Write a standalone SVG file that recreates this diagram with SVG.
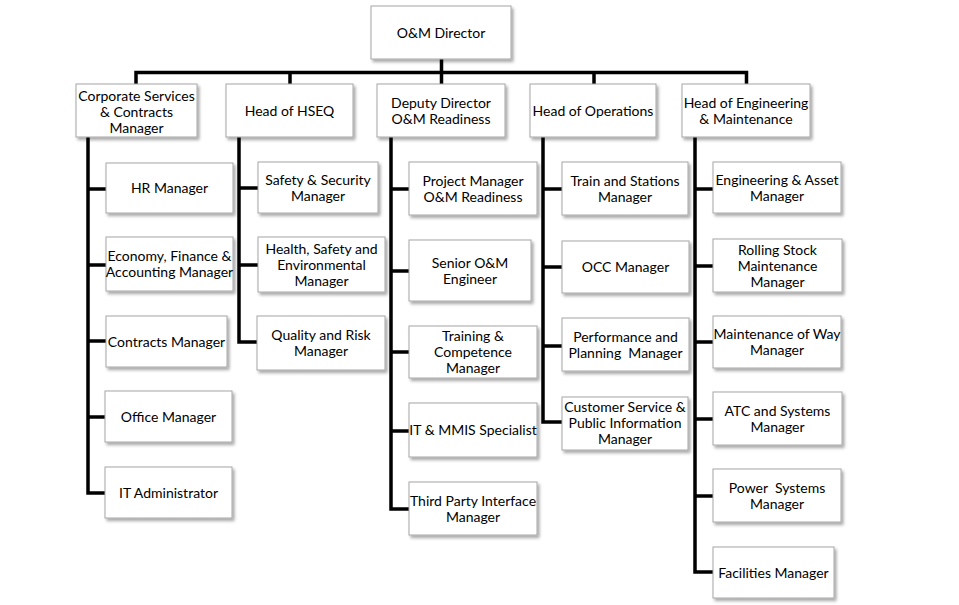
<svg xmlns="http://www.w3.org/2000/svg" width="959" height="605" viewBox="0 0 959 605">
<defs>
<filter id="sh" x="-10%" y="-10%" width="130%" height="140%">
<feDropShadow dx="2" dy="2.5" stdDeviation="1.5" flood-color="#000" flood-opacity="0.35"/>
</filter>
<style>
.b{fill:#fff;stroke:#a6a6a6;stroke-width:1;filter:url(#sh)}
.t{font-family:Lato,"Liberation Sans",sans-serif;font-size:14px;fill:#000;text-anchor:middle;white-space:pre}
.c{fill:none;stroke:#000;stroke-width:3.5;stroke-linejoin:miter;stroke-linecap:butt}
</style>
</defs>
<rect width="959" height="605" fill="#fff"/>
<g id="connectors">
<path class="c" d="M441.5 59V72.5M136 86V72.5H746.5V86M290 72.5V86M594 72.5V86M441.5 72.5V86"/>
<path class="c" d="M88 137V493H105M88 189H106M88 265H106M88 341H106M88 417H105"/>
<path class="c" d="M239 137V342H257M239 188H258M239 265H258"/>
<path class="c" d="M391 137V509H409M391 189H409M391 271H409M391 352H409M391 431H409"/>
<path class="c" d="M543 137V422H562M543 189H562M543 267H562M543 346H562"/>
<path class="c" d="M695 137V572H713M695 189H713M695 266H713M695 342H713M695 419H713M695 496H713"/>
</g>
<g id="director"><rect class="b" x="371" y="6" width="140" height="53"/><text class="t" x="441" y="37.5">O&amp;M Director</text></g>
<g id="corporate"><rect class="b" x="76" y="84" width="121" height="53"/><text class="t" x="136.5" y="100.5">Corporate Services</text><text class="t" x="136.5" y="116.5">&amp; Contracts</text><text class="t" x="136.5" y="132.5">Manager</text></g>
<g id="hseq"><rect class="b" x="226" y="84" width="127" height="53"/><text class="t" x="289.5" y="115.5">Head of HSEQ</text></g>
<g id="deputy"><rect class="b" x="377" y="84" width="128" height="53"/><text class="t" x="441" y="107.5">Deputy Director</text><text class="t" x="441" y="123.5">O&amp;M Readiness</text></g>
<g id="operations"><rect class="b" x="530" y="84" width="126" height="53"/><text class="t" x="593" y="115.5">Head of Operations</text></g>
<g id="engineering"><rect class="b" x="682" y="84" width="128" height="53"/><text class="t" x="746" y="107.5">Head of Engineering</text><text class="t" x="746" y="123.5">&amp; Maintenance</text></g>

<g id="hr"><rect class="b" x="106" y="163" width="127" height="50"/><text class="t" x="169.5" y="193">HR Manager</text></g>
<g id="economy"><rect class="b" x="106" y="237" width="127" height="54"/><text class="t" x="169.5" y="261">Economy, Finance &amp;</text><text class="t" x="169.5" y="277">Accounting Manager</text></g>
<g id="contracts"><rect class="b" x="106" y="316" width="121" height="51"/><text class="t" x="166.5" y="346.5">Contracts Manager</text></g>
<g id="office"><rect class="b" x="105" y="391" width="127" height="51"/><text class="t" x="168.5" y="421.5">Office Manager</text></g>
<g id="itadmin"><rect class="b" x="105" y="467" width="127" height="51"/><text class="t" x="168.5" y="497.5">IT Administrator</text></g>

<g id="safety"><rect class="b" x="258" y="162" width="120" height="51"/><text class="t" x="318" y="184.5">Safety &amp; Security</text><text class="t" x="318" y="200.5">Manager</text></g>
<g id="health"><rect class="b" x="258" y="237" width="127" height="55"/><text class="t" x="321.5" y="253.5">Health, Safety and</text><text class="t" x="321.5" y="269.5">Environmental</text><text class="t" x="321.5" y="285.5">Manager</text></g>
<g id="quality"><rect class="b" x="257" y="316" width="128" height="54"/><text class="t" x="321" y="340">Quality and Risk</text><text class="t" x="321" y="356">Manager</text></g>

<g id="project"><rect class="b" x="409" y="162" width="128" height="53"/><text class="t" x="473" y="185.5">Project Manager</text><text class="t" x="473" y="201.5">O&amp;M Readiness</text></g>
<g id="senior"><rect class="b" x="409" y="240" width="122" height="61"/><text class="t" x="470" y="267.5">Senior O&amp;M</text><text class="t" x="470" y="283.5">Engineer</text></g>
<g id="training"><rect class="b" x="409" y="326" width="128" height="52"/><text class="t" x="473" y="341">Training &amp;</text><text class="t" x="473" y="357">Competence</text><text class="t" x="473" y="373">Manager</text></g>
<g id="itmmis"><rect class="b" x="409" y="403" width="128" height="54"/><text class="t" x="473" y="435">IT &amp; MMIS Specialist</text></g>
<g id="thirdparty"><rect class="b" x="409" y="482" width="128" height="53"/><text class="t" x="473" y="505.5">Third Party Interface</text><text class="t" x="473" y="521.5">Manager</text></g>

<g id="trainstations"><rect class="b" x="562" y="162" width="126" height="53"/><text class="t" x="625" y="185.5">Train and Stations</text><text class="t" x="625" y="201.5">Manager</text></g>
<g id="occ"><rect class="b" x="562" y="241" width="127" height="52"/><text class="t" x="625.5" y="272">OCC Manager</text></g>
<g id="performance"><rect class="b" x="562" y="318" width="127" height="53"/><text class="t" x="625.5" y="341.5">Performance and</text><text class="t" x="625.5" y="357.5">Planning  Manager</text></g>
<g id="customer"><rect class="b" x="562" y="397" width="126" height="53"/><text class="t" x="625" y="411.5">Customer Service &amp;</text><text class="t" x="625" y="427.5">Public Information</text><text class="t" x="625" y="443.5">Manager</text></g>

<g id="engasset"><rect class="b" x="713" y="162" width="128" height="51"/><text class="t" x="777" y="184.5">Engineering &amp; Asset</text><text class="t" x="777" y="200.5">Manager</text></g>
<g id="rolling"><rect class="b" x="713" y="239" width="129" height="53"/><text class="t" x="777.5" y="254.5">Rolling Stock</text><text class="t" x="777.5" y="270.5">Maintenance</text><text class="t" x="777.5" y="286.5">Manager</text></g>
<g id="mow"><rect class="b" x="713" y="316" width="128" height="52"/><text class="t" x="777" y="339">Maintenance of Way</text><text class="t" x="777" y="355">Manager</text></g>
<g id="atc"><rect class="b" x="713" y="392" width="129" height="53"/><text class="t" x="777.5" y="415.5">ATC and Systems</text><text class="t" x="777.5" y="431.5">Manager</text></g>
<g id="power"><rect class="b" x="713" y="469" width="128" height="53"/><text class="t" x="777" y="492.5">Power  Systems</text><text class="t" x="777" y="508.5">Manager</text></g>
<g id="facilities"><rect class="b" x="713" y="547" width="121" height="51"/><text class="t" x="773.5" y="577.5">Facilities Manager</text></g>
</svg>
